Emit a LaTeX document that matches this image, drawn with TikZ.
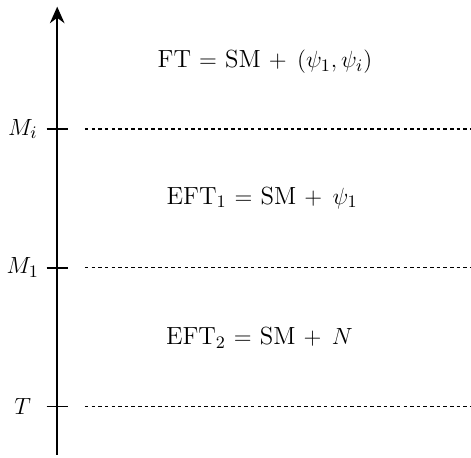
\documentclass[tikz,border=0pt]{standalone}
\usetikzlibrary{arrows.meta, positioning}

\begin{document}
\begin{tikzpicture}[
    axisline/.style={line width=0.9pt, -{Stealth[length=8.5pt, width=7.5pt]}},
    tickline/.style={line width=0.9pt},
    scaleline/.style={line width=0.75pt, dash pattern=on 1.8pt off 1.6pt},
    scalelabel/.style={font=\fontsize{12.5}{15}\selectfont},
    theory/.style={font=\fontsize{12.7}{15}\selectfont}]
  \useasboundingbox (0,0) rectangle (8.48,8.24);
  % vertical energy axis
  \coordinate (bottom) at (1.03,0.05);
  \coordinate (top) at (1.03,8.12);
  \draw[axisline] (bottom) -- (top);
  % scales
  \foreach \name/\lab/\y in {mi/M_i/5.92, mone/M_1/3.42, temp/T/0.92} {
    \coordinate (\name-l) at (0.84,\y);
    \coordinate (\name-r) at (1.22,\y);
    \coordinate (\name-a) at (1.53,\y);
    \coordinate (\name-b) at (8.48,\y);
    \node[scalelabel] (\name) at (0.41,\y) {$\lab$};
    \draw[tickline] (\name-l) -- (\name-r);
    \draw[scaleline] (\name-a) -- (\name-b);
  }
  % theories between the scales
  \node[theory] (ft) at (4.77,7.13) {FT $=$ SM $+\;\,(\psi_1,\psi_i)$};
  \node[theory] (eft1) at (4.72,4.68) {EFT$_1$ $=$ SM $+\;\,\psi_1$};
  \node[theory] (eft2) at (4.67,2.16) {EFT$_2$ $=$ SM $+\;\,N$};
\end{tikzpicture}
\end{document}
